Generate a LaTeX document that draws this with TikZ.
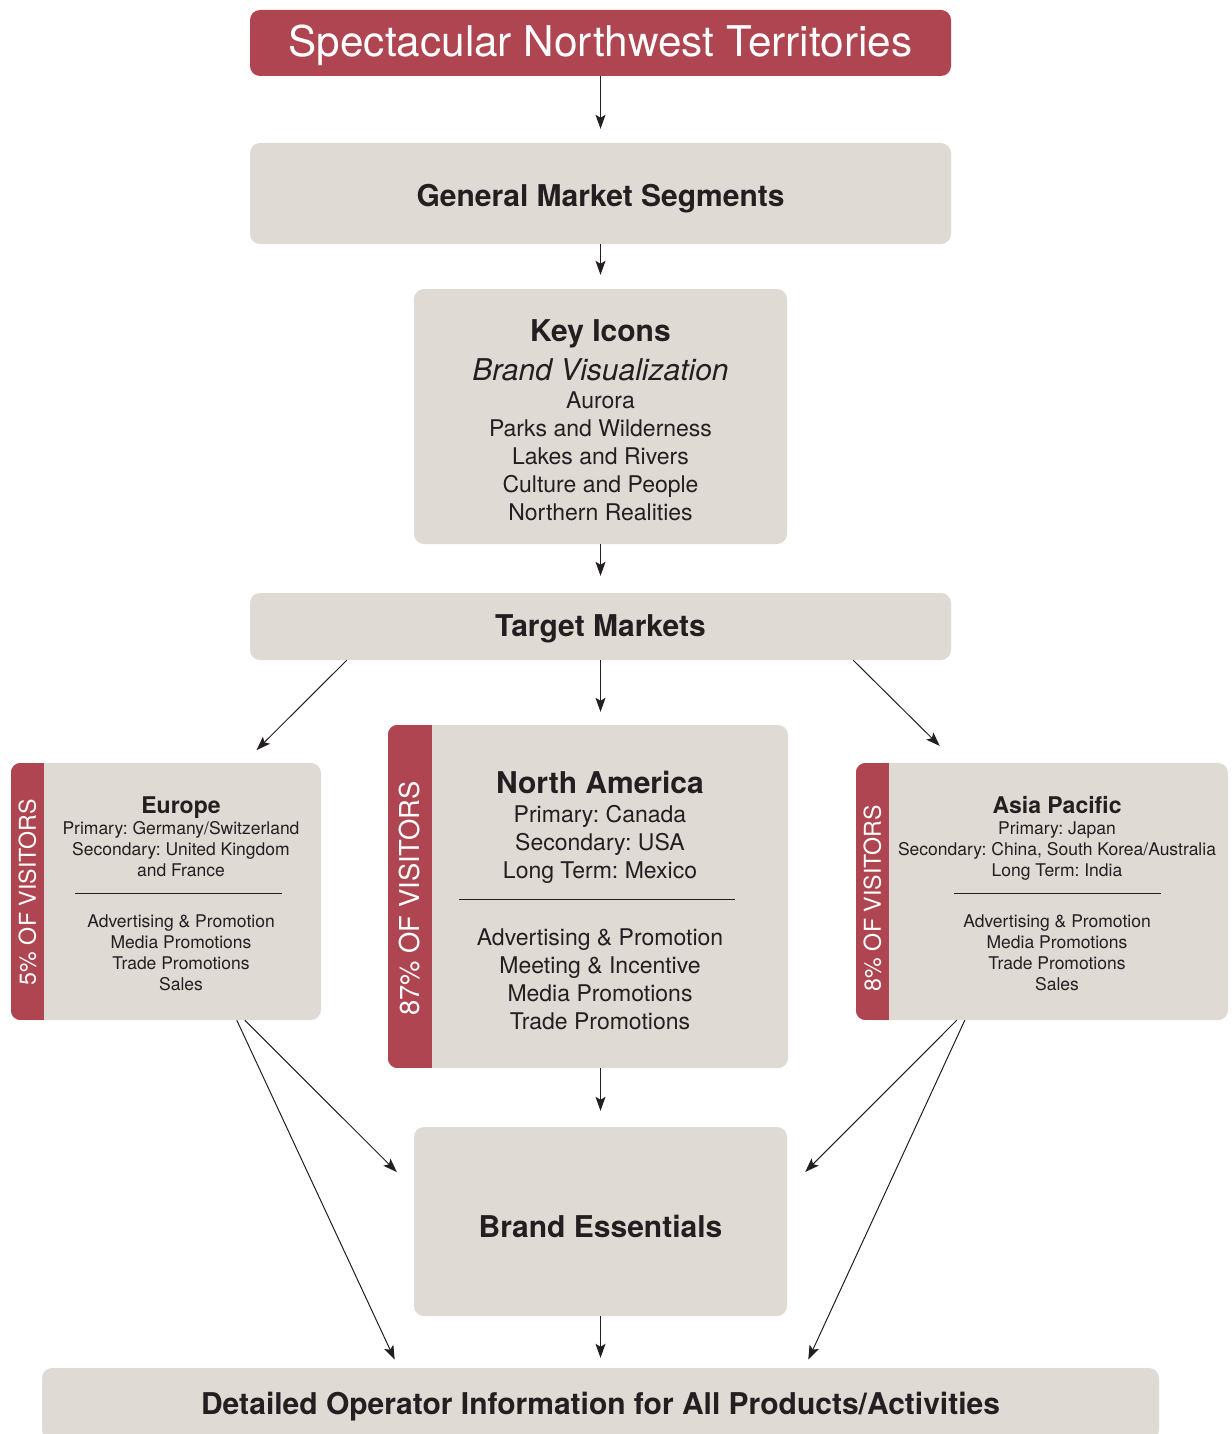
\documentclass[tikz,border=0pt]{standalone}
\usepackage{fontspec}
\setmainfont{TeX Gyre Heros}
\usetikzlibrary{arrows.meta,positioning}
\frenchspacing

\definecolor{nwtred}{HTML}{AE4550}
\definecolor{nwtgrey}{HTML}{E0DAD5}
\definecolor{nwtink}{HTML}{231F20}

\def\nwthead{\fontsize{30}{36}\selectfont\bfseries}
\def\nwtsub{\fontsize{23}{28}\selectfont\bfseries}
\def\nwtlist{\fontsize{23}{28}\selectfont}
\def\nwtsmall{\fontsize{17.5}{21}\selectfont}

\tikzset{
  redbox/.style={fill=nwtred, text=white, rounded corners=10pt, inner sep=0pt},
  greybox/.style={fill=nwtgrey, text=nwtink, rounded corners=10pt, inner sep=0pt},
  lift/.style={text height=#1, text depth=0pt},
  blurb/.style={text=nwtink, align=center, inner sep=0pt, anchor=north},
  tablabel/.style={rotate=90, text=white, inner sep=0pt},
  divider/.style={draw=nwtink, line width=1pt},
  flow/.style={draw=nwtink, line width=1pt, -{Stealth[length=14pt,width=10pt,inset=3pt]}, shorten >=14pt},
}

\begin{document}
\begin{tikzpicture}[x=1pt,y=-1pt]
			%%%%% START %%%%%
			\useasboundingbox (0,0) rectangle (1231,1434);
			
			\node[redbox, lift=27.4pt, minimum width=701, minimum height=66, font=\fontsize{42.3}{50}\selectfont] (title) at (600.5,43) {Spectacular Northwest Territories};
			\node[greybox, lift=26pt, minimum width=701, minimum height=101, font=\nwthead] (segments) at (600.5,193.5) {General Market Segments};
			
			\node[greybox, minimum width=373, minimum height=255] (icons) at (600.5,416.5) {};
			\node[blurb, font=\nwtlist] (iconlist) at (600.5,319.5) {{\nwthead Key Icons}\\[9pt]{\fontsize{30}{36}\selectfont\itshape Brand Visualization}\\Aurora\\Parks and Wilderness\\Lakes and Rivers\\Culture and People\\Northern Realities};
			
			\node[greybox, lift=19.6pt, minimum width=701, minimum height=67, font=\nwthead] (target) at (600.5,626.5) {Target Markets};
			
			% market boxes
			\node[greybox, minimum width=310, minimum height=257] (europe) at (166,891.5) {};
			\node[greybox, minimum width=400, minimum height=343] (namerica) at (588,896.5) {};
			\node[greybox, minimum width=372, minimum height=257] (asia) at (1042,891.5) {};
			
			\begin{scope}
			\clip[rounded corners=10pt] (europe.north west) rectangle (europe.south east);
			\fill[nwtred] (europe.north west) rectangle ([xshift=33pt]europe.south west);
			\end{scope}
			\begin{scope}
			\clip[rounded corners=10pt] (namerica.north west) rectangle (namerica.south east);
			\fill[nwtred] (namerica.north west) rectangle ([xshift=44pt]namerica.south west);
			\end{scope}
			\begin{scope}
			\clip[rounded corners=10pt] (asia.north west) rectangle (asia.south east);
			\fill[nwtred] (asia.north west) rectangle ([xshift=33pt]asia.south west);
			\end{scope}
			
			\node[tablabel, font=\fontsize{23.2}{28}\selectfont] (eushare) at (27.5,892) {5\% OF VISITORS};
			\node[tablabel, font=\fontsize{27.4}{32}\selectfont] (nashare) at (410,898.5) {87\% OF VISITORS};
			\node[tablabel, font=\fontsize{23.2}{28}\selectfont] (apshare) at (872.5,898) {8\% OF VISITORS};
			
			\node[blurb, font=\nwtsmall] (eutop) at (181,796.4) {{\nwtsub Europe}\\Primary: Germany/Switzerland\\Secondary: United Kingdom\\and France};
			\draw[divider] (75,893) -- (282,893);
			\node[blurb, font=\nwtsmall] (eubottom) at (181,914.2) {Advertising \& Promotion\\Media Promotions\\Trade Promotions\\Sales};
			
			\node[blurb, font=\nwtlist] (natop) at (600,771.4) {{\nwthead North America}\\[1pt]Primary: Canada\\Secondary: USA\\Long Term: Mexico};
			\draw[divider] (459,899) -- (735,899);
			\node[blurb, font=\nwtlist] (nabottom) at (600,928.2) {Advertising \& Promotion\\Meeting \& Incentive\\Media Promotions\\Trade Promotions};
			
			\node[blurb, font=\nwtsmall] (aptop) at (1057,796.2) {{\nwtsub Asia Pacific}\\Primary: Japan\\Secondary: China, South Korea/Australia\\Long Term: India};
			\draw[divider] (954,893) -- (1161,893);
			\node[blurb, font=\nwtsmall] (apbottom) at (1057,914.2) {Advertising \& Promotion\\Media Promotions\\Trade Promotions\\Sales};
			
			\node[greybox, lift=31pt, minimum width=373, minimum height=189, font=\nwthead] (essentials) at (600.5,1221.5) {Brand Essentials};
			\node[greybox, lift=21.2pt, minimum width=1117, minimum height=72, font=\nwthead] (detail) at (600.5,1404) {Detailed Operator Information for All Products/Activities};
			
			% arrows
			\draw[flow] (title) -- (segments);
			\draw[flow] (segments) -- (icons);
			\draw[flow, shorten >=17pt] (icons) -- (target);
			\draw[flow, shorten >=13pt] (target.south) -- (target.south |- namerica.north);
			\draw[flow, shorten >=18pt] ([xshift=97pt]target.south west) -- ([xshift=233pt]europe.north west);
			\draw[flow, shorten >=24pt] ([xshift=-98pt]target.south east) -- ([xshift=101pt]asia.north west);
			
			\draw[flow, shorten >=16pt] (essentials.north |- namerica.south) -- (essentials.north);
			\draw[flow, shorten >=10pt] (essentials) -- (detail);
			
			\draw[flow, shorten >=24pt] ([xshift=234pt]europe.south west) -- ([yshift=32.5pt]essentials.west);
			\draw[flow, shorten >=9pt] ([xshift=226pt]europe.south west) -- ([xshift=356.7pt]detail.north west);
			\draw[flow, shorten >=25.5pt] ([xshift=101pt]asia.south west) -- ([yshift=31.5pt]essentials.east);
			\draw[flow, shorten >=9pt] ([xshift=109pt]asia.south west) -- ([xshift=-354.7pt]detail.north east);
			
			%%%%% END %%%%%
		\end{tikzpicture}
\end{document}
